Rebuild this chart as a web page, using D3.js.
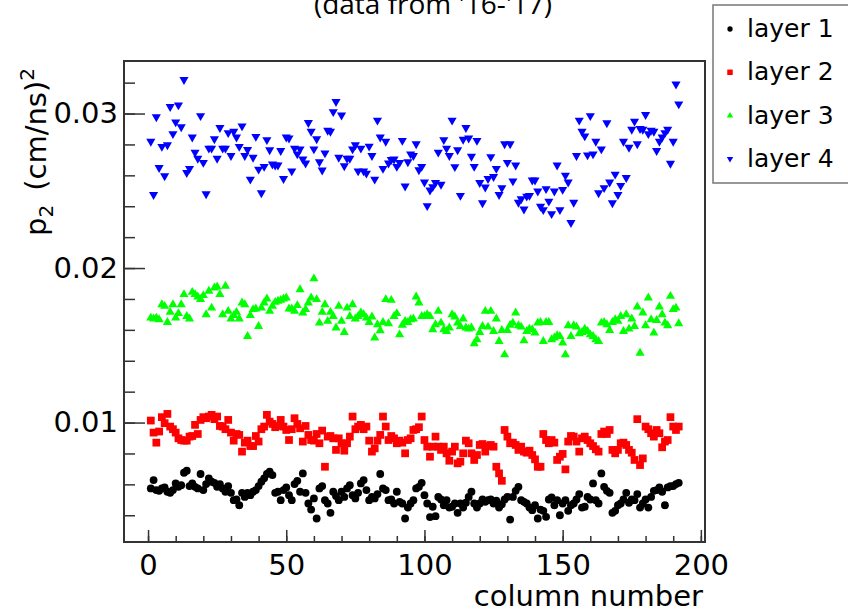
<!DOCTYPE html>
<html>
<head>
<meta charset="utf-8">
<script src="https://cdn.jsdelivr.net/npm/d3@7"></script>
<style>
    body { margin: 0; background: #fff; }
    svg { display: block; font-family: "DejaVu Sans", "Liberation Sans", Arial, sans-serif; }
    .tick text { font-size: 29px; fill: #000; }
    .tick line { stroke: #333; stroke-width: 1.5; }
</style>
</head>
<body>
<script>
// p2 per column (columns 1..192)
const layer1 = [
    0.00574, 0.00628, 0.00563, 0.00558, 0.00574, 0.0058, 0.00552, 0.00545, 0.00563, 0.00606,
    0.00584, 0.00595, 0.00675, 0.00688, 0.00589, 0.00606, 0.00584, 0.00574, 0.00667, 0.00563,
    0.00602, 0.00639, 0.00617, 0.0061, 0.00584, 0.00602, 0.00574, 0.00552, 0.00589, 0.00545,
    0.00498, 0.00502, 0.00465, 0.00545, 0.00519, 0.00545, 0.0053, 0.00552, 0.00563, 0.00589,
    0.00617, 0.00639, 0.00667, 0.00682, 0.0066, 0.00545, 0.00552, 0.00498, 0.00563, 0.0058,
    0.0053, 0.00498, 0.00602, 0.00623, 0.00552, 0.00671, 0.00545, 0.00476, 0.00437, 0.00509,
    0.00379,
    0.00574, 0.00589, 0.00498, 0.00476, 0.00416, 0.00552, 0.00524, 0.00498, 0.00552, 0.00519,
    0.00574, 0.00595, 0.0053, 0.00509, 0.00545, 0.00606, 0.00628, 0.00563, 0.00498, 0.00519,
    0.00509, 0.00537, 0.00667, 0.00574, 0.00563, 0.00498, 0.00502, 0.00476, 0.00552, 0.00487,
    0.00476, 0.00379, 0.0045, 0.00476, 0.00498, 0.00574, 0.00584, 0.0061, 0.0053, 0.00476,
    0.00388, 0.00455, 0.00394, 0.00519, 0.00502, 0.00465, 0.00498, 0.0045, 0.00455, 0.00476,
    0.00416, 0.00476, 0.0045, 0.00481, 0.00519, 0.00552, 0.00476, 0.0045, 0.00476, 0.00502,
    0.00487, 0.00498, 0.00502, 0.00476, 0.00494, 0.0045, 0.00472, 0.00502, 0.00519, 0.00372,
    0.00519, 0.00558, 0.00584, 0.00498, 0.00487, 0.00476, 0.0045, 0.00433, 0.00465, 0.00379,
    0.00437, 0.00429, 0.0039, 0.00502, 0.00515, 0.00465, 0.00498, 0.004, 0.00476, 0.00498,
    0.00429, 0.00465, 0.00476, 0.00502, 0.00537, 0.0045, 0.00455, 0.00519, 0.00502, 0.00606,
    0.00498, 0.00476, 0.00671, 0.00584, 0.00558, 0.00545, 0.00416, 0.00429, 0.00465, 0.00476,
    0.00502, 0.00545, 0.00481, 0.00502, 0.00498, 0.00537, 0.0045, 0.00476, 0.00502,
    0.0045, 0.00519, 0.00558, 0.00563, 0.0058, 0.00552, 0.00465, 0.0058, 0.00589, 0.00589,
    0.00602, 0.0061
]

const layer2 = [
    0.01013, 0.00935, 0.0087, 0.00942, 0.01035, 0.00996, 0.01056, 0.00974, 0.00957, 0.00935,
    0.00898, 0.00887, 0.00883, 0.00883, 0.00909, 0.00913, 0.00985, 0.00926, 0.01017, 0.01035,
    0.01028, 0.01039, 0.0105, 0.01022, 0.01039, 0.00978, 0.00974, 0.00957, 0.01017, 0.00935,
    0.00883, 0.00926, 0.0092, 0.00812, 0.0087, 0.00883, 0.00848, 0.00848, 0.00913, 0.00877,
    0.00957, 0.00974, 0.0105, 0.01006, 0.00991, 0.0097, 0.00978, 0.01017, 0.00974, 0.00952,
    0.00887, 0.00957, 0.01028, 0.00991, 0.00963, 0.00877, 0.00978, 0.0092, 0.00887, 0.00883,
    0.00926, 0.00866, 0.00948, 0.00714,
    0.00909, 0.00913, 0.00898, 0.00823, 0.00898, 0.00866, 0.00818, 0.00866, 0.00909,
    0.01039, 0.00957, 0.00974, 0.00985, 0.00957, 0.00974, 0.00883, 0.00812, 0.00833, 0.00883,
    0.0092, 0.01039, 0.00974, 0.00887, 0.00913, 0.00898, 0.00866, 0.00883, 0.0087, 0.00801,
    0.00887, 0.00898, 0.00952, 0.00957, 0.0097, 0.01039, 0.00887, 0.00844, 0.00779,
    0.00844, 0.00909, 0.00844, 0.00823, 0.00844, 0.00801, 0.00753, 0.00812, 0.00844, 0.00736,
    0.00747, 0.00801, 0.00883, 0.00866, 0.00801, 0.00758, 0.0079, 0.00855, 0.00861, 0.00812,
    0.00848, 0.00855, 0.00844, 0.00714, 0.00671, 0.00623, 0.00952, 0.00909, 0.00866,
    0.0087, 0.00855, 0.00823, 0.00844, 0.00812, 0.00805, 0.00818, 0.0079, 0.00762, 0.00714,
    0.00714, 0.00926, 0.00887, 0.00866, 0.00887, 0.0087, 0.00758, 0.00779, 0.00797, 0.00697,
    0.00877, 0.00913, 0.00909, 0.00877, 0.00812, 0.00898, 0.00909, 0.00887, 0.00866, 0.00848,
    0.00827, 0.00812, 0.00926, 0.00942, 0.00926, 0.00952, 0.00823, 0.00801, 0.00823, 0.00866,
    0.0087, 0.00855, 0.00823, 0.00805, 0.00758, 0.01022, 0.00725, 0.00768, 0.00974, 0.00957,
    0.00931, 0.00909, 0.00952, 0.00931, 0.0084, 0.00877, 0.00887, 0.01035, 0.00974, 0.00952,
    0.00974
]

const layer3 = [
    0.01677, 0.01671, 0.01677, 0.01667, 0.01764, 0.01753, 0.01649, 0.01714, 0.01764, 0.01677,
    0.01706, 0.01764, 0.01829, 0.01688, 0.01671, 0.01844, 0.01829, 0.01814, 0.01797, 0.01823,
    0.01699, 0.01851, 0.01742, 0.01872, 0.01879, 0.01829, 0.01699, 0.01883, 0.01721, 0.01671,
    0.01693, 0.01714, 0.01671, 0.01775, 0.01764, 0.01558, 0.01693, 0.01732, 0.01736, 0.01623,
    0.01742, 0.01775, 0.01801, 0.01721, 0.01753, 0.01779, 0.01786, 0.01792, 0.01801, 0.01807,
    0.01736, 0.01736, 0.01721, 0.01758, 0.01861, 0.0171, 0.01732, 0.01775, 0.01807, 0.01931,
    0.01797, 0.01645, 0.01714, 0.01764, 0.01656, 0.01714, 0.01688, 0.01613, 0.01753, 0.01656,
    0.01584, 0.01742, 0.01688, 0.01764, 0.01671, 0.01688, 0.0171, 0.01699, 0.01677, 0.01649,
    0.01684, 0.01548, 0.01634, 0.01595, 0.01649, 0.01797, 0.01641, 0.01792, 0.01688, 0.01706,
    0.01569, 0.01631, 0.01656, 0.01649, 0.01667, 0.01671, 0.01814, 0.01775, 0.01688, 0.01688,
    0.01699, 0.01688, 0.01602, 0.01634, 0.01721, 0.01645, 0.01602, 0.01591, 0.01613, 0.01699,
    0.01684, 0.01645, 0.01623, 0.01671, 0.01613, 0.01606, 0.01613, 0.01511, 0.01537, 0.01584,
    0.01623, 0.01721, 0.01619, 0.01721, 0.01591, 0.01671, 0.01526, 0.01597, 0.01439, 0.01597,
    0.01631, 0.01645, 0.0171,
    0.01628, 0.01619, 0.0153, 0.01591, 0.01606, 0.01602, 0.0158, 0.01645, 0.01649, 0.01526,
    0.01649, 0.01649, 0.01537, 0.01548, 0.01563, 0.01558, 0.01515, 0.01439, 0.01628, 0.01558,
    0.01628, 0.01619, 0.01576, 0.01584, 0.01606, 0.01591, 0.01569, 0.01558, 0.01537, 0.01526,
    0.01645, 0.01649, 0.01634, 0.01597, 0.01649, 0.01667, 0.01656, 0.01688, 0.01591, 0.01699,
    0.01606, 0.01671, 0.01623, 0.01749, 0.0145, 0.0171, 0.01628, 0.01807, 0.01667, 0.0158,
    0.01662, 0.01749, 0.01699, 0.01645, 0.01628, 0.01818, 0.01732, 0.01742, 0.01641
]

const layer4 = [
    0.02819, 0.02475, 0.02978, 0.0265, 0.02786, 0.02596, 0.02797, 0.03044, 0.02869, 0.02945,
    0.03055, 0.02913, 0.03219, 0.02617, 0.02644, 0.02847, 0.02749, 0.02709, 0.02985, 0.02683,
    0.0248, 0.02775, 0.02775, 0.02836, 0.02709, 0.02908, 0.02775, 0.02775, 0.02875, 0.02727,
    0.02884, 0.02847, 0.02786, 0.02919, 0.02727, 0.02766, 0.02574, 0.02716, 0.02851, 0.02639,
    0.02486, 0.02657, 0.0283, 0.02764, 0.02672, 0.02666, 0.02666, 0.0276, 0.02578, 0.02847,
    0.0284, 0.02628, 0.02775, 0.02738, 0.0277, 0.02705, 0.02679, 0.02941, 0.02884, 0.0277,
    0.02836, 0.02687, 0.02633, 0.02744, 0.02891, 0.02884, 0.03011, 0.03077, 0.02716, 0.02989,
    0.02661, 0.02709, 0.02709, 0.0277, 0.02797, 0.02628, 0.02775, 0.02628, 0.02613, 0.02788,
    0.02727, 0.02574, 0.02956, 0.02847, 0.02644, 0.02819, 0.02679, 0.02701, 0.02705, 0.02657,
    0.02683, 0.02825, 0.0253, 0.02687, 0.02738,
    0.02727, 0.02803, 0.02635, 0.02657, 0.02556, 0.02403, 0.02504, 0.02526, 0.02552, 0.02749,
    0.02541, 0.0283, 0.02775, 0.02727, 0.02956, 0.02655, 0.02764, 0.02469, 0.02832, 0.02908,
    0.0284, 0.02722, 0.02657, 0.02825, 0.02552, 0.02421, 0.02523, 0.02578, 0.0272, 0.02591,
    0.02644, 0.02475, 0.02519, 0.02803, 0.02683, 0.02803, 0.02563, 0.02666, 0.02425, 0.02447,
    0.02381, 0.02464, 0.02469, 0.02569, 0.02569, 0.02497, 0.02399, 0.02377, 0.02513, 0.02432,
    0.02351, 0.02497, 0.02666, 0.02377, 0.02508, 0.026, 0.02556, 0.02294, 0.02425, 0.02727,
    0.02956, 0.02884, 0.02854, 0.02731, 0.02985, 0.02738, 0.02819, 0.02486, 0.0277, 0.02519,
    0.02939, 0.02556, 0.02421, 0.02607, 0.02475, 0.02534, 0.02819, 0.02585, 0.02781, 0.02897,
    0.0295, 0.02803, 0.02902, 0.02897, 0.02993, 0.02869, 0.02891, 0.02884, 0.0276, 0.02819,
    0.02847, 0.02875, 0.02897, 0.02677, 0.02819, 0.0319, 0.03061
]

const layerNames = ["layer 1", "layer 2", "layer 3", "layer 4"]
const xMajorTicks = [0, 50, 100, 150, 200]
const yMajorTicks = [0.01, 0.02, 0.03]
const titleText = "(data from '16-'17)"
const xTitle = "column number"

var width = 848
var height = 613
var frame = { left: 124, right: 705, top: 61, bottom: 542 }

var svg = d3.select("body").append("svg")
    .attr("width", width)
    .attr("height", height);

var xScale = d3.scaleLinear()
    .domain([-8.7, 201.5])
    .range([frame.left, frame.right]);

var yScale = d3.scaleLinear()
    .domain([0.00227, 0.0334])
    .range([frame.bottom, frame.top]);

var series = [
    { name: layerNames[0], values: layer1, color: "#000000", symbol: d3.symbolCircle, size: 48, legendSize: 22, rot: 0 },
    { name: layerNames[1], values: layer2, color: "#ff0000", symbol: d3.symbolSquare, size: 60, legendSize: 30, rot: 0 },
    { name: layerNames[2], values: layer3, color: "#00ff00", symbol: d3.symbolTriangle, size: 36, legendSize: 18, rot: 0 },
    { name: layerNames[3], values: layer4, color: "#0000ff", symbol: d3.symbolTriangle, size: 36, legendSize: 18, rot: 180 }
]

function renderAxes() {
    // major + minor ticks point into the frame (ROOT style)
    var xMajor = d3.axisBottom(xScale)
        .tickValues(xMajorTicks)
        .tickFormat(d3.format("d"))
        .tickSizeInner(-12)
        .tickSizeOuter(0)
        .tickPadding(12);

    var xMinor = d3.axisBottom(xScale)
        .tickValues(d3.range(0, 201, 10))
        .tickFormat("")
        .tickSizeInner(-6)
        .tickSizeOuter(0);

    var yMajor = d3.axisLeft(yScale)
        .tickValues(yMajorTicks)
        .tickFormat(d3.format(".2f"))
        .tickSizeInner(-21)
        .tickSizeOuter(0)
        .tickPadding(6);

    var yMinor = d3.axisLeft(yScale)
        .tickValues(d3.range(4, 33, 2).map(d => d / 1000))
        .tickFormat("")
        .tickSizeInner(-11)
        .tickSizeOuter(0);

    [xMinor, xMajor].forEach(function (ax) {
        svg.append("g")
            .attr("class", "x-axis")
            .attr("transform", "translate(0," + frame.bottom + ")")
            .call(ax)
            .call(g => g.select(".domain").remove());
    });

    [yMinor, yMajor].forEach(function (ax) {
        svg.append("g")
            .attr("class", "y-axis")
            .attr("transform", "translate(" + frame.left + ",0)")
            .call(ax)
            .call(g => g.select(".domain").remove());
    });

    svg.selectAll(".x-axis, .y-axis").attr("font-family", null).attr("font-size", null);

    svg.append("rect")
        .attr("x", frame.left)
        .attr("y", frame.top)
        .attr("width", frame.right - frame.left)
        .attr("height", frame.bottom - frame.top)
        .style("fill", "none")
        .style("stroke", "#333")
        .style("stroke-width", 2);
}

function renderPoints() {
    series.forEach(function (s) {
        svg.append("g")
            .selectAll("path")
            .data(s.values)
            .enter()
            .append("path")
            .attr("d", d3.symbol().type(s.symbol).size(s.size))
            .attr("transform", (d, i) => "translate(" + xScale(i + 1) + "," + yScale(d) + ") rotate(" + s.rot + ")")
            .style("fill", s.color);
    });
}

function renderTexts() {
    svg.append("text")
        .attr("x", 433)
        .attr("y", 14)
        .attr("text-anchor", "middle")
        .style("font-family", "'Open Sans', sans-serif")
        .style("font-size", "28px")
        .text(titleText);

    svg.append("text")
        .attr("x", frame.right - 2)
        .attr("y", 606)
        .attr("text-anchor", "end")
        .style("font-size", "29px")
        .text(xTitle);

    var yLabel = svg.append("text")
        .attr("transform", "translate(46,236) rotate(-90)")
        .style("font-size", "29px");
    yLabel.append("tspan").text("p");
    yLabel.append("tspan").attr("dy", 7).style("font-size", "20px").text("2");
    yLabel.append("tspan").attr("dy", -7).attr("dx", 14).text("(cm/ns)");
    yLabel.append("tspan").attr("dy", -12).style("font-size", "20px").text("2");
}

function renderLegend() {
    var lg = svg.append("g").attr("class", "legend");

    lg.append("rect")
        .attr("x", 713)
        .attr("y", 5)
        .attr("width", 150)
        .attr("height", 178)
        .style("fill", "#fff")
        .style("stroke", "#777")
        .style("stroke-width", 1.5);

    var rows = lg.selectAll("g.entry")
        .data(series)
        .enter()
        .append("g")
        .attr("class", "entry")
        .attr("transform", (d, i) => "translate(0," + (37 + i * 43.3) + ")");

    rows.append("path")
        .attr("d", d => d3.symbol().type(d.symbol).size(d.legendSize)())
        .attr("transform", d => "translate(730,-8) rotate(" + d.rot + ")")
        .style("fill", d => d.color);

    rows.append("text")
        .attr("x", 747)
        .attr("y", 0)
        .style("font-size", "25px")
        .text(d => d.name);
}

renderAxes();
renderPoints();
renderTexts();
renderLegend();
</script>
</body>
</html>
